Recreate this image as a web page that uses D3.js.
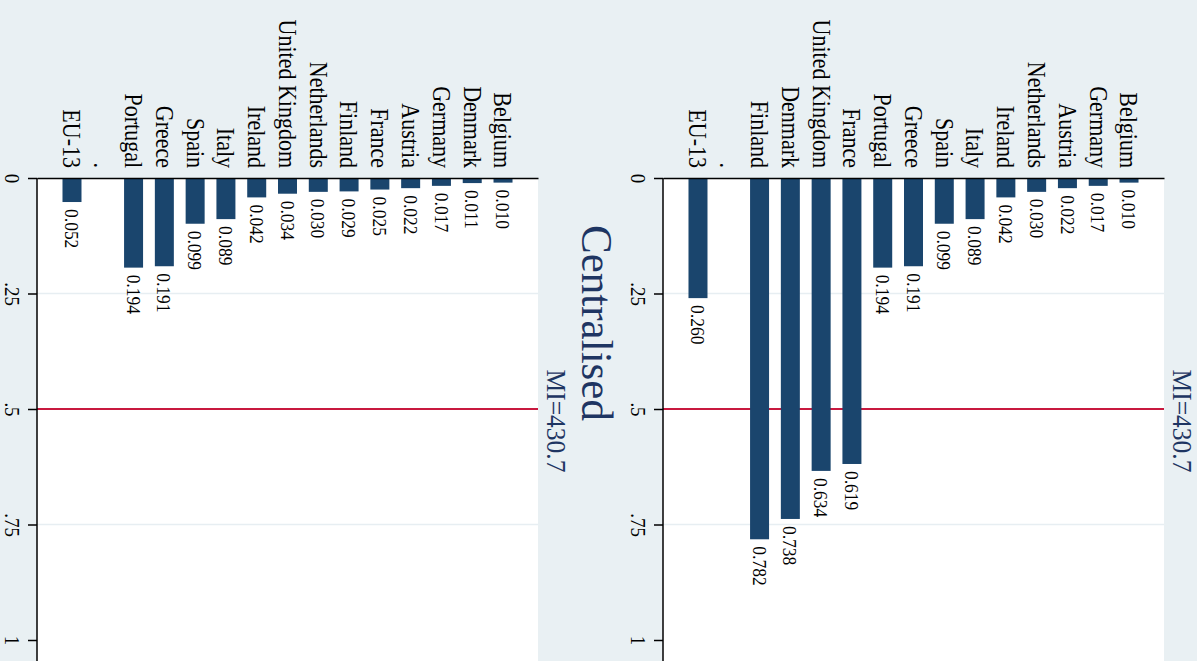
<!DOCTYPE html>
<html>
<head>
<meta charset="utf-8">
<script src="https://cdn.jsdelivr.net/npm/d3@7"></script>
<style>
  html, body { margin: 0; padding: 0; background: #e9f0f3; }
  svg { display: block; }
  text { font-family: "Liberation Serif", "Times New Roman", serif; }
</style>
</head>
<body>
<div id="chart"></div>
<script>
// data, listed from the right-hand slot to the left-hand slot
const catsLeft = ['Belgium', 'Denmark', 'Germany', 'Austria', 'France', 'Finland', 'Netherlands',
  'United Kingdom', 'Ireland', 'Italy', 'Spain', 'Greece', 'Portugal', '.', 'EU-13'];
const valsLeft = [0.010, 0.011, 0.017, 0.022, 0.025, 0.029, 0.030, 0.034, 0.042, 0.089, 0.099,
  0.191, 0.194, null, 0.052];

const catsRight = ['Belgium', 'Germany', 'Austria', 'Netherlands', 'Ireland', 'Italy', 'Spain',
  'Greece', 'Portugal', 'France', 'United Kingdom', 'Denmark', 'Finland', '.', 'EU-13'];
const valsRight = [0.010, 0.017, 0.022, 0.030, 0.042, 0.089, 0.099, 0.191, 0.194, 0.619, 0.634,
  0.738, 0.782, null, 0.260];

const tickVals = [0, 0.25, 0.5, 0.75, 1];
const tickLabels = ['0', '.25', '.5', '.75', '1'];
const refLine = 0.5;
const titleText = 'Centralised';
const noteText = 'MI=430.7';

const width = 1197;
const height = 661;
const sx = 1.12; // picture is a little wider than tall

const panel = { left: 37, width: 501, top: 178, unit: 462 };
const offsets = [0, 626];

const svg = d3.select('#chart')
  .append('svg')
  .attr('width', width)
  .attr('height', height);

svg.append('rect')
  .attr('width', width)
  .attr('height', height)
  .attr('fill', '#e9f0f3');

const y = d3.scaleLinear()
  .domain([0, 1])
  .range([panel.top, panel.top + panel.unit]);

function drawPanel(cats, vals, dx) {
  const data = cats.map((c, i) => ({ cat: c, val: vals[i] }));
  const g = svg.append('g').attr('transform', `translate(${dx},0)`);

  const x = d3.scaleBand()
    .domain(cats)
    .range([panel.left + panel.width, panel.left])
    .paddingInner(0.383)
    .paddingOuter(0.828);

  // plot region
  g.append('rect')
    .attr('x', panel.left)
    .attr('y', panel.top)
    .attr('width', panel.width)
    .attr('height', height - panel.top + 20)
    .attr('fill', '#fff');

  // grid
  g.append('g')
    .selectAll('line')
    .data(tickVals.filter(v => v > 0 && v < 1))
    .join('line')
      .attr('x1', panel.left)
      .attr('x2', panel.left + panel.width)
      .attr('y1', d => y(d))
      .attr('y2', d => y(d))
      .attr('stroke', '#e7eef2')
      .attr('stroke-width', 1.5);

  g.append('line')
    .attr('x1', panel.left)
    .attr('x2', panel.left + panel.width)
    .attr('y1', y(refLine))
    .attr('y2', y(refLine))
    .attr('stroke', '#c8193f')
    .attr('stroke-width', 2);

  // bars
  const bars = data.filter(d => d.val != null);
  g.append('g')
    .attr('fill', '#1a456d')
    .selectAll('rect')
    .data(bars)
    .join('rect')
      .attr('x', d => x(d.cat))
      .attr('y', y(0))
      .attr('width', x.bandwidth())
      .attr('height', d => y(d.val) - y(0));

  g.append('g')
    .selectAll('text')
    .data(bars)
    .join('text')
      .attr('transform', d => `translate(${x(d.cat) + x.bandwidth() / 2},${y(d.val) + 7}) rotate(90) scale(1,${sx})`)
      .attr('dy', '0.35em')
      .attr('font-size', '17.5px')
      .attr('fill', '#000')
      .text(d => d.val.toFixed(3));

  // category axis along the top
  const catAxis = g.append('g')
    .attr('transform', `translate(0,${panel.top})`)
    .call(d3.axisTop(x).tickSize(0).tickSizeOuter(0));
  catAxis.select('.domain').attr('stroke', '#000').attr('stroke-width', 1.5);
  catAxis.selectAll('text')
    .attr('x', null)
    .attr('y', null)
    .attr('dy', '0.35em')
    .attr('text-anchor', 'end')
    .attr('transform', `translate(0,-10) rotate(90) scale(1,${sx})`)
    .attr('font-family', null)
    .attr('font-size', '22px')
    .attr('fill', '#000');

  // value axis on the left
  const valAxis = g.append('g')
    .attr('transform', `translate(${panel.left},0)`)
    .call(d3.axisLeft(y).tickValues(tickVals).tickFormat((d, i) => tickLabels[i]).tickSize(9).tickSizeOuter(0));
  valAxis.select('.domain').remove();
  valAxis.selectAll('.tick line').attr('stroke', '#000').attr('stroke-width', 1.5);
  valAxis.selectAll('text')
    .attr('x', null)
    .attr('dy', '0.28em')
    .attr('text-anchor', 'middle')
    .attr('transform', `translate(-26,0) rotate(90) scale(1,${sx})`)
    .attr('font-family', null)
    .attr('font-size', '19px')
    .attr('fill', '#000');
  valAxis.append('line')
    .attr('y1', y(0))
    .attr('y2', height + 20)
    .attr('stroke', '#000')
    .attr('stroke-width', 1.5);

  // note to the right of the plot
  g.append('text')
    .attr('transform', `translate(${panel.left + panel.width + 18},421) rotate(90) scale(1,1.06)`)
    .attr('dy', '0.35em')
    .attr('text-anchor', 'middle')
    .attr('font-size', '25.5px')
    .attr('fill', '#1e3562')
    .text(noteText);
}

drawPanel(catsLeft, valsLeft, offsets[0]);
drawPanel(catsRight, valsRight, offsets[1]);

svg.append('text')
  .attr('transform', `translate(598,323) rotate(90) scale(1,1.05)`)
  .attr('dy', '0.35em')
  .attr('text-anchor', 'middle')
  .attr('font-size', '43px')
  .attr('fill', '#1e3562')
  .text(titleText);
</script>
</body>
</html>
